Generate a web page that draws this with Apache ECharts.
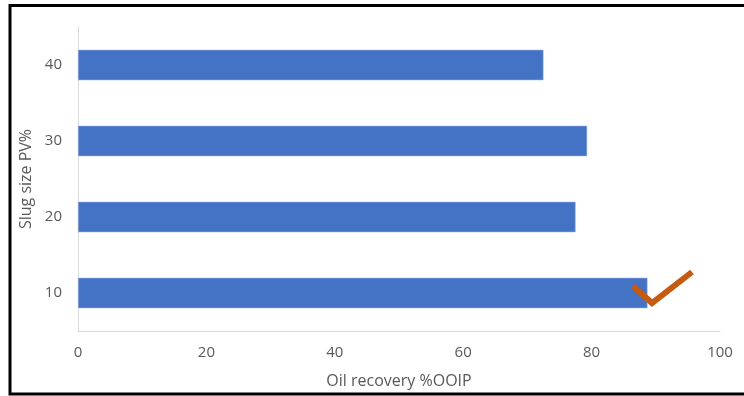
<!DOCTYPE html>
<html><head><meta charset="utf-8">
<script src="https://cdn.jsdelivr.net/npm/echarts@6/dist/echarts.min.js"></script>
<style>html,body{margin:0;padding:0;background:#fff}#c{width:744px;height:396px}</style>
</head><body><div id="c"></div>
<script>
var categories = ['10', '20', '30', '40'];
var recovery = [88.7, 77.5, 79.3, 72.5];
var xTicks = [0, 20, 40, 60, 80, 100];
var xName = 'Oil recovery %OOIP';
var yName = 'Slug size PV%';

var chart = echarts.init(document.getElementById('c'));
chart.setOption({
  animation: false,
  backgroundColor: '#fff',
  grid: { left: 78, right: 24, top: 27, bottom: 65 },
  xAxis: {
    type: 'value', min: xTicks[0], max: xTicks[xTicks.length - 1], interval: 20,
    name: xName, nameLocation: 'middle', nameGap: 42,
    nameTextStyle: { color: '#595959', fontSize: 16, fontFamily: 'Open Sans' },
    axisLine: { show: true, lineStyle: { color: '#d9d9d9', width: 1 } },
    axisTick: { show: false },
    splitLine: { show: false },
    axisLabel: { color: '#595959', fontSize: 15, margin: 14, fontFamily: 'Open Sans' }
  },
  yAxis: {
    type: 'category', data: categories,
    name: yName, nameLocation: 'middle', nameGap: 41,
    nameTextStyle: { color: '#595959', fontSize: 16, fontFamily: 'Open Sans' },
    axisLine: { show: true, lineStyle: { color: '#d9d9d9', width: 1 } },
    axisTick: { show: false },
    axisLabel: { color: '#595959', fontSize: 15, margin: 16, fontFamily: 'Open Sans' }
  },
  series: [{
    type: 'bar', data: recovery, barWidth: '40%',
    itemStyle: { color: '#4472c4', borderColor: '#8faadc', borderWidth: 0.6 }
  }],
  graphic: [
    { type: 'rect', z: 100, shape: { x: 10, y: 5.5, width: 760, height: 388.5 }, style: { fill: 'none', stroke: '#000', lineWidth: 3 } },
    { type: 'polyline', z: 100, shape: { points: [[633, 286], [652, 303], [692, 272]] }, style: { fill: 'none', stroke: '#c55a11', lineWidth: 6 } }
  ]
});
</script></body></html>
